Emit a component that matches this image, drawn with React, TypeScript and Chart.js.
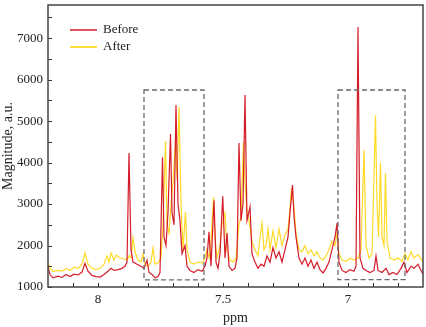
import React, { useEffect, useRef } from "react";
import { Chart, registerables } from "chart.js";

Chart.register(...registerables);

// ppm positions and magnitudes (a.u.)
const beforePpm = [8.2, 8.192, 8.18, 8.16, 8.144, 8.128, 8.112, 8.096, 8.08, 8.064, 8.052, 8.04, 8.024, 8.008, 7.992, 7.976, 7.96, 7.948, 7.936, 7.92, 7.904, 7.892, 7.884, 7.876, 7.868, 7.86, 7.844, 7.828, 7.816, 7.804, 7.796, 7.784, 7.772, 7.76, 7.752, 7.742, 7.736, 7.728, 7.72, 7.71, 7.704, 7.696, 7.688, 7.68, 7.672, 7.664, 7.652, 7.644, 7.632, 7.616, 7.6, 7.584, 7.572, 7.564, 7.556, 7.548, 7.536, 7.528, 7.52, 7.512, 7.501, 7.492, 7.484, 7.476, 7.464, 7.452, 7.444, 7.436, 7.428, 7.42, 7.412, 7.404, 7.392, 7.384, 7.372, 7.36, 7.348, 7.336, 7.324, 7.312, 7.3, 7.288, 7.276, 7.264, 7.252, 7.24, 7.232, 7.222, 7.216, 7.208, 7.196, 7.184, 7.172, 7.16, 7.148, 7.136, 7.124, 7.112, 7.1, 7.088, 7.076, 7.064, 7.052, 7.044, 7.036, 7.024, 7.008, 6.992, 6.976, 6.968, 6.96, 6.952, 6.94, 6.928, 6.912, 6.896, 6.888, 6.88, 6.864, 6.848, 6.836, 6.82, 6.804, 6.788, 6.776, 6.764, 6.748, 6.736, 6.72, 6.704, 6.696];
const beforeVal = [1480, 1300, 1220, 1260, 1230, 1300, 1250, 1310, 1290, 1360, 1570, 1380, 1280, 1250, 1240, 1300, 1380, 1450, 1400, 1420, 1450, 1500, 1600, 4230, 1900, 1600, 1550, 1500, 1450, 1650, 1350, 1300, 1220, 1250, 1350, 4130, 2200, 2000, 2800, 4690, 2800, 2500, 5390, 3000, 2600, 1800, 2000, 1500, 1400, 1350, 1420, 1380, 1500, 1700, 2330, 1500, 3090, 1600, 1450, 1800, 3190, 1700, 2300, 1500, 1400, 1450, 1700, 4470, 2600, 3000, 5630, 2600, 2930, 1800, 1600, 1450, 1550, 1500, 1750, 1600, 1950, 1700, 1850, 1600, 1900, 2200, 2800, 3460, 2700, 2200, 1700, 1550, 1700, 1500, 1650, 1450, 1600, 1420, 1340, 1450, 1600, 1900, 2200, 2540, 1600, 1400, 1350, 1420, 1380, 1500, 7270, 1700, 1450, 1400, 1350, 1400, 1750, 1400, 1350, 1450, 1300, 1350, 1300, 1450, 1600, 1350, 1500, 1450, 1550, 1350, 1300];

const afterPpm = [8.2, 8.192, 8.18, 8.16, 8.144, 8.128, 8.112, 8.096, 8.08, 8.064, 8.052, 8.04, 8.024, 8.008, 7.992, 7.976, 7.964, 7.956, 7.948, 7.936, 7.928, 7.912, 7.896, 7.884, 7.876, 7.868, 7.86, 7.852, 7.84, 7.828, 7.82, 7.812, 7.8, 7.788, 7.78, 7.772, 7.76, 7.748, 7.74, 7.73, 7.724, 7.716, 7.708, 7.7, 7.69, 7.684, 7.676, 7.668, 7.66, 7.65, 7.644, 7.632, 7.616, 7.6, 7.584, 7.572, 7.564, 7.556, 7.548, 7.538, 7.532, 7.524, 7.512, 7.504, 7.492, 7.484, 7.472, 7.46, 7.448, 7.436, 7.428, 7.418, 7.412, 7.404, 7.396, 7.384, 7.372, 7.36, 7.352, 7.344, 7.336, 7.328, 7.32, 7.312, 7.3, 7.288, 7.276, 7.264, 7.252, 7.24, 7.232, 7.226, 7.216, 7.208, 7.196, 7.184, 7.172, 7.16, 7.148, 7.136, 7.124, 7.112, 7.1, 7.088, 7.076, 7.064, 7.052, 7.044, 7.036, 7.024, 7.008, 6.992, 6.976, 6.96, 6.948, 6.936, 6.928, 6.916, 6.904, 6.89, 6.884, 6.878, 6.87, 6.864, 6.856, 6.85, 6.844, 6.832, 6.816, 6.8, 6.784, 6.772, 6.76, 6.748, 6.736, 6.72, 6.704, 6.696];
const afterVal = [1600, 1450, 1380, 1400, 1380, 1450, 1400, 1480, 1450, 1550, 1820, 1550, 1450, 1420, 1450, 1550, 1750, 1600, 1820, 1650, 1770, 1700, 1680, 1650, 1750, 1700, 2180, 1850, 1650, 1600, 1800, 1550, 1500, 1600, 1940, 1550, 1580, 1700, 2500, 4520, 2500, 2300, 3000, 3500, 4530, 3600, 5340, 3000, 1900, 2810, 1900, 1600, 1550, 1600, 1580, 1700, 1900, 1700, 2100, 3170, 2200, 1700, 2000, 2500, 2780, 1900, 1650, 1600, 1700, 2500, 2700, 4500, 3500, 2800, 2600, 2100, 1900, 1750, 2200, 2540, 1900, 2000, 2400, 1900, 2350, 1950, 2400, 2000, 2250, 2400, 2900, 3390, 2900, 2300, 1900, 1850, 2000, 1800, 1900, 1750, 1850, 1700, 1650, 1750, 1900, 2100, 2000, 2300, 1800, 1650, 1620, 1700, 1650, 1700, 1900, 4300, 2000, 1700, 1800, 5140, 3000, 2200, 3990, 2200, 2000, 3750, 2100, 1700, 1650, 1700, 1620, 1800, 1650, 1850, 1700, 1780, 1650, 1600];

const seriesNames = ["Before", "After"];
const seriesColors = ["rgb(212,28,42)", "rgb(255,212,0)"];

// highlighted regions: [ppm from, ppm to, magnitude low, magnitude high]
const boxRegions = [
  [7.816, 7.576, 1170, 5750],
  [7.04, 6.772, 1180, 5750],
];

// tick positions (minor + major) and labelled majors
const xTickValues = [8.1, 8.0, 7.9, 7.8, 7.7, 7.6, 7.5, 7.4, 7.3, 7.2, 7.1, 7.0, 6.9, 6.8];
const xMajorTicks = [8, 7.5, 7];
const yTickValues = [1000, 1500, 2000, 2500, 3000, 3500, 4000, 4500, 5000, 5500, 6000, 6500, 7000, 7500];
const yMajorTicks = [1000, 2000, 3000, 4000, 5000, 6000, 7000];

const FONT = "'Liberation Serif', 'Times New Roman', serif";

const framePlugin = {
  id: "framePlugin",
  afterDraw(chart: any) {
    const { ctx, chartArea: a, scales } = chart;
    const xs = scales.x;
    const ys = scales.y;
    ctx.save();
    // dashed boxes
    ctx.strokeStyle = "#6a6a6a";
    ctx.lineWidth = 1.3;
    ctx.setLineDash([5, 3]);
    boxRegions.forEach((b) => {
      const x1 = xs.getPixelForValue(b[0]);
      const x2 = xs.getPixelForValue(b[1]);
      const y1 = ys.getPixelForValue(b[3]);
      const y2 = ys.getPixelForValue(b[2]);
      ctx.strokeRect(Math.min(x1, x2), y1, Math.abs(x2 - x1), y2 - y1);
    });
    ctx.setLineDash([]);
    // inward ticks
    ctx.strokeStyle = "#333";
    ctx.lineWidth = 1;
    xs.ticks.forEach((t: any) => {
      const px = Math.round(xs.getPixelForValue(t.value)) + 0.5;
      ctx.beginPath();
      ctx.moveTo(px, a.bottom);
      ctx.lineTo(px, a.bottom - 4);
      ctx.stroke();
    });
    ys.ticks.forEach((t: any) => {
      const py = Math.round(ys.getPixelForValue(t.value)) + 0.5;
      ctx.beginPath();
      ctx.moveTo(a.left, py);
      ctx.lineTo(a.left + 4, py);
      ctx.stroke();
    });
    // frame
    ctx.strokeStyle = "#444";
    ctx.lineWidth = 1.5;
    ctx.strokeRect(a.left, a.top, a.right - a.left, a.bottom - a.top);
    // legend
    ctx.font = `13px ${FONT}`;
    ctx.textBaseline = "middle";
    ctx.fillStyle = "#222";
    seriesNames.forEach((n, i) => {
      const y = a.top + 25 + i * 17;
      ctx.strokeStyle = seriesColors[i];
      ctx.lineWidth = 1.5;
      ctx.beginPath();
      ctx.moveTo(a.left + 22, y);
      ctx.lineTo(a.left + 49, y);
      ctx.stroke();
      ctx.fillText(n, a.left + 55, y);
    });
    ctx.restore();
  },
};

export default function App() {
  const ref = useRef<HTMLCanvasElement | null>(null);
  useEffect(() => {
    if (!ref.current) return;
    const mk = (p: number[], v: number[]) => p.map((x, i) => ({ x, y: v[i] }));
    const chart = new Chart(ref.current, {
      type: "line",
      data: {
        datasets: [
          {
            label: seriesNames[0],
            data: mk(beforePpm, beforeVal),
            borderColor: seriesColors[0],
            borderWidth: 1.2,
            pointRadius: 0,
            tension: 0,
          },
          {
            label: seriesNames[1],
            data: mk(afterPpm, afterVal),
            borderColor: "rgba(255,212,0,0.85)",
            borderWidth: 1.2,
            pointRadius: 0,
            tension: 0,
          },
        ],
      },
      options: {
        animation: false,
        responsive: false,
        layout: { padding: { top: 5, right: 3, left: 0, bottom: 0 } },
        plugins: { legend: { display: false }, tooltip: { enabled: false } },
        scales: {
          x: {
            type: "linear",
            reverse: true,
            min: 6.7,
            max: 8.2,
            afterBuildTicks: (s: any) => {
              s.ticks = xTickValues.map((v) => ({ value: v }));
            },
            afterFit: (s: any) => {
              s.height = 40;
              s.paddingLeft = 0;
              s.paddingRight = 0;
            },
            grid: { display: false, drawTicks: false },
            border: { display: false },
            ticks: {
              autoSkip: false,
              maxRotation: 0,
              padding: 5,
              color: "#222",
              font: { family: FONT, size: 13 },
              callback: (value: any) => {
                const v = Number(value);
                const m = xMajorTicks.find((t) => Math.abs(t - v) < 1e-6);
                return m === undefined ? "" : String(m);
              },
            },
            title: {
              display: true,
              text: "ppm",
              color: "#222",
              font: { family: FONT, size: 14 },
              padding: { top: 0, bottom: 0 },
            },
          },
          y: {
            min: 1000,
            max: 7800,
            afterBuildTicks: (s: any) => {
              s.ticks = yTickValues.map((v) => ({ value: v }));
            },
            afterFit: (s: any) => {
              s.width = 48;
              s.paddingTop = 0;
              s.paddingBottom = 0;
            },
            grid: { display: false, drawTicks: false },
            border: { display: false },
            ticks: {
              autoSkip: false,
              padding: 5,
              color: "#222",
              font: { family: FONT, size: 13 },
              callback: (value: any) => {
                const v = Number(value);
                const m = yMajorTicks.find((t) => Math.abs(t - v) < 1e-6);
                return m === undefined ? "" : String(m);
              },
            },
            title: {
              display: true,
              text: "Magnitude, a.u.",
              color: "#222",
              font: { family: FONT, size: 14 },
              padding: { top: 0, bottom: 0 },
            },
          },
        },
      },
      plugins: [framePlugin],
    });
    return () => chart.destroy();
  }, []);
  return (
    <div style={{ position: "fixed", left: 0, top: 0, width: 426, height: 327, background: "#fff" }}>
      <canvas ref={ref} width={426} height={327} style={{ width: 426, height: 327 }} />
    </div>
  );
}
